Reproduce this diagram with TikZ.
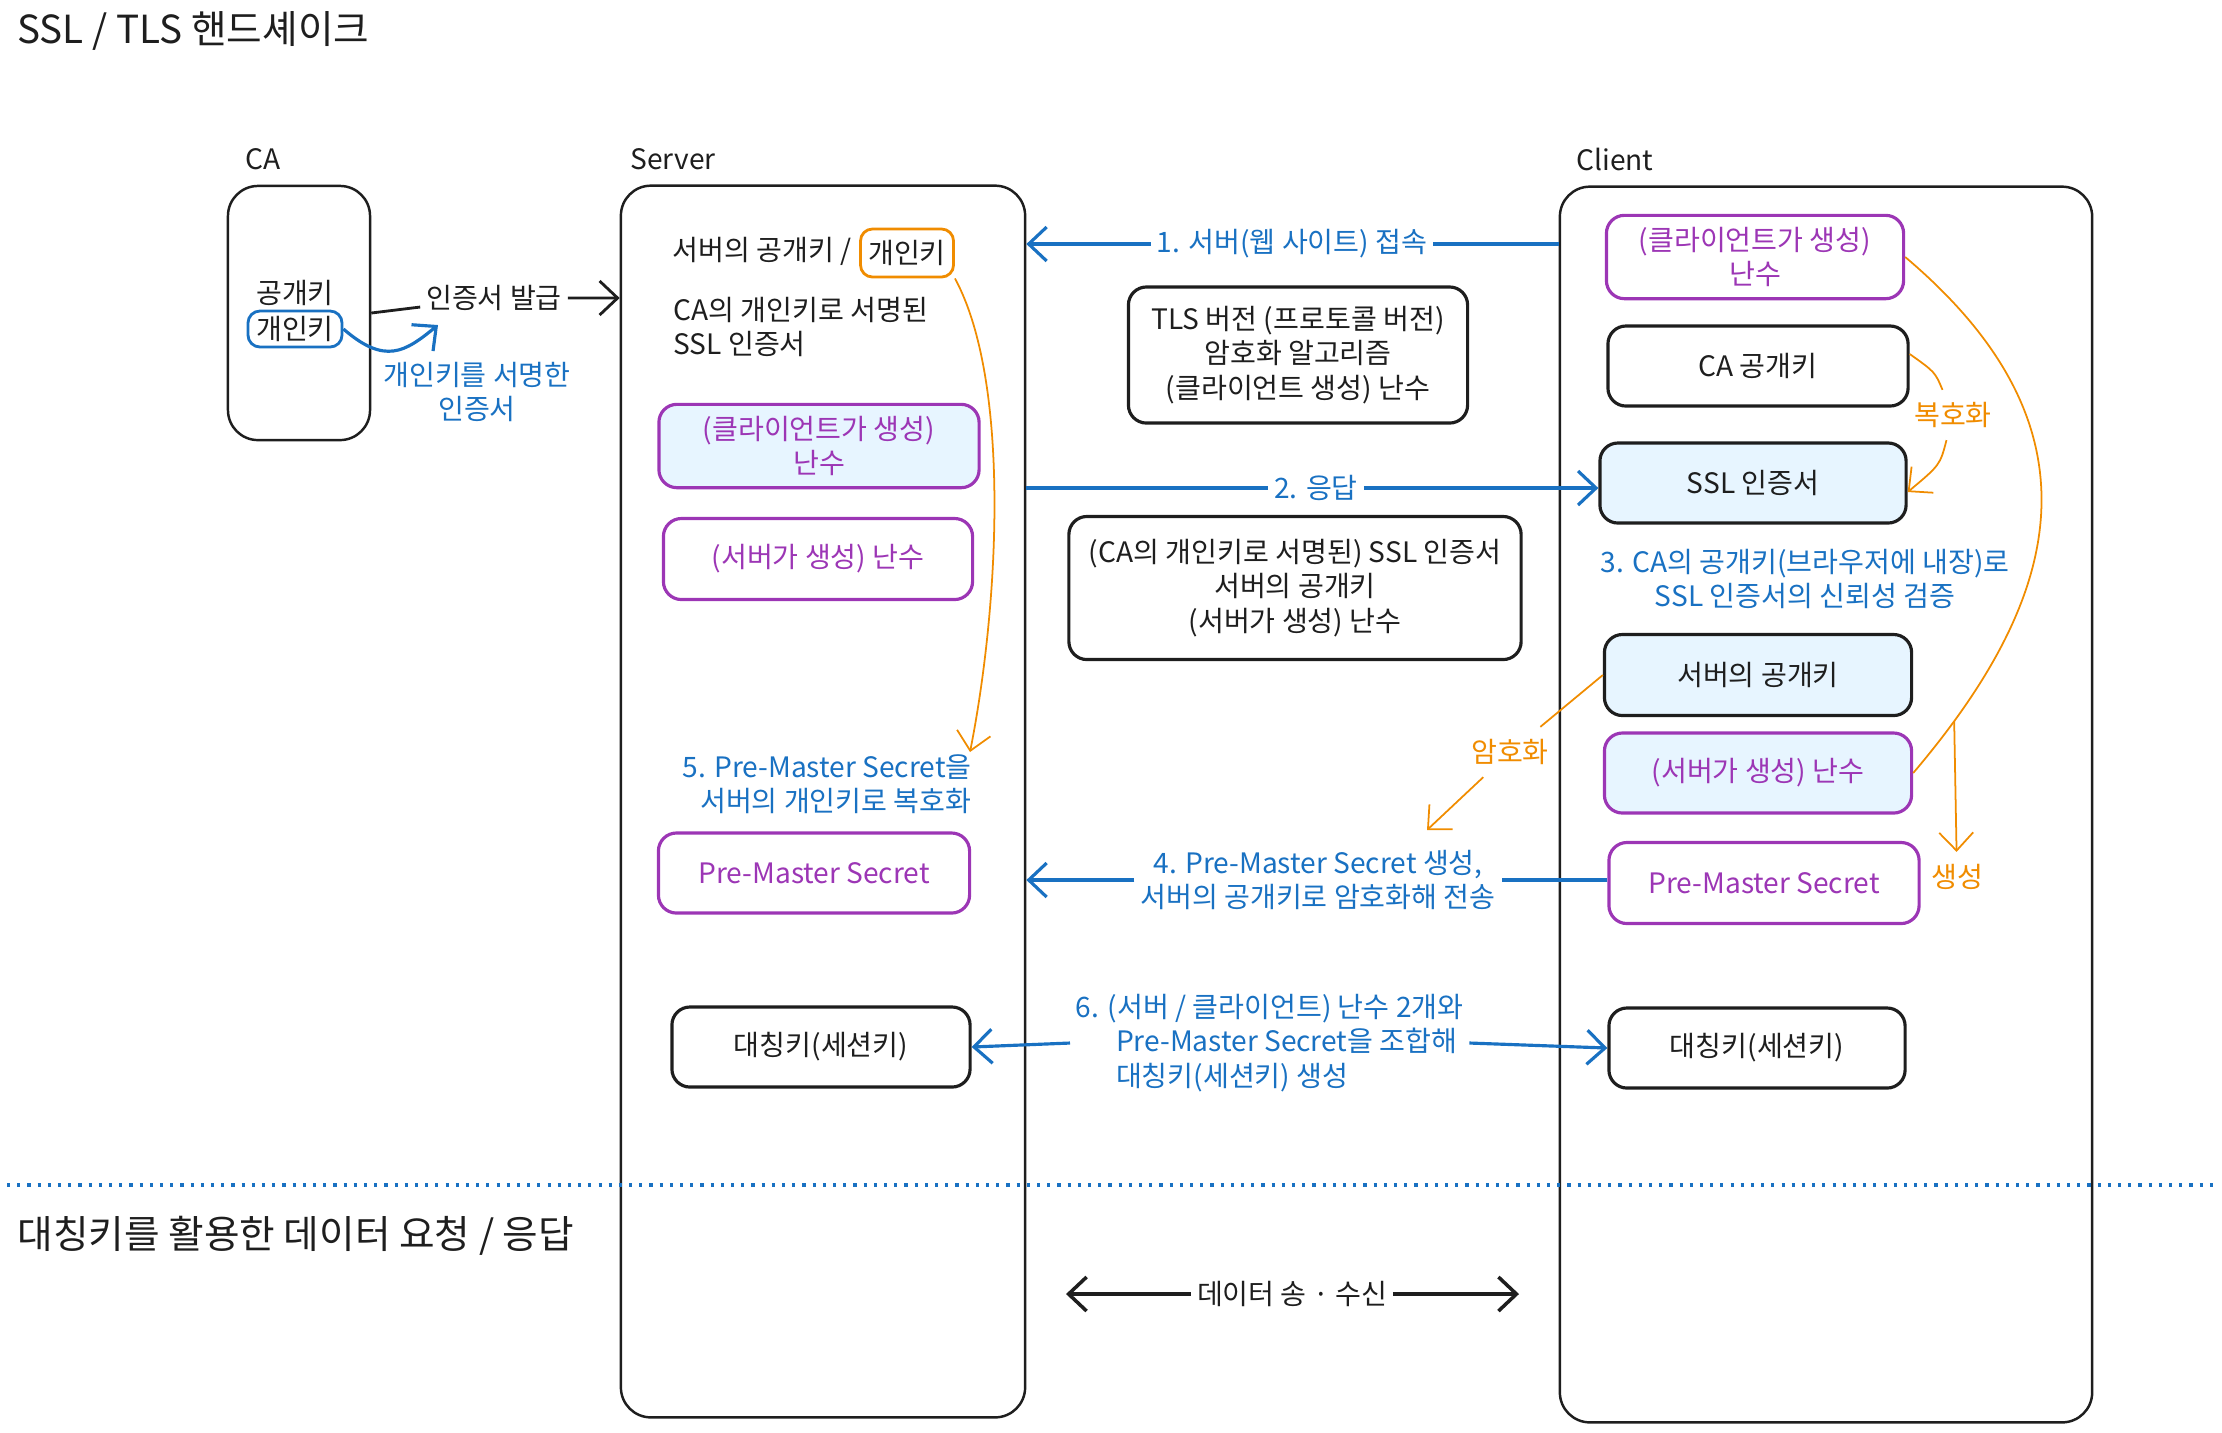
\documentclass[tikz,border=0pt]{standalone}
\usepackage{fontspec}
\setmainfont{Noto Sans CJK KR}
\usepackage{xcolor}
\usepackage{tikz}
\usetikzlibrary{arrows.meta}
\definecolor{exblack}{HTML}{1E1E1E}
\definecolor{exblue}{HTML}{1971C2}
\definecolor{expurple}{HTML}{9C36B5}
\definecolor{exorange}{HTML}{F08C00}
\definecolor{exfill}{HTML}{E7F5FF}
\tikzset{>={Straight Barb[length=1.8mm,width=3.4mm]}}
\tikzset{
	lane/.style={draw=exblack,line width=0.7pt,rounded corners=3mm},
	keybox/.style={draw=exblack,line width=0.9pt,rounded corners=1.8mm,align=center,text=exblack},
	randbox/.style={keybox,draw=expurple,text=expurple},
	tagbox/.style={draw,line width=0.8pt,rounded corners=1.2mm,inner sep=1.5pt},
	blueline/.style={draw=exblue,line width=0.9pt},
	oline/.style={draw=exorange,line width=0.5pt},
	bluetext/.style={text=exblue,align=center},
	msgtext/.style={bluetext,inner sep=1.5pt},
	otext/.style={text=exorange}
}

\begin{document}
\begin{tikzpicture}[x=0.01cm,y=-0.01cm,color=exblack,font=\fontsize{8}{9.8}\selectfont]
	\useasboundingbox (0,0) rectangle (2222,1432);
	\node[anchor=west,font=\fontsize{11}{12}\selectfont] (title) at (5,31) {SSL / TLS 핸드셰이크};
	\node[anchor=west,font=\fontsize{11}{12}\selectfont] (title data) at (5,1236) {대칭키를 활용한 데이터 요청 / 응답};
	% lanes
	\node[lane,minimum width=1.42cm,minimum height=2.54cm] (ca) at (299,313) {};
	\node[lane,minimum width=4.04cm,minimum height=12.31cm] (srv) at (823,801.5) {};
	\node[lane,minimum width=5.32cm,minimum height=12.35cm] (cli) at (1826,804.5) {};
	\node (ca name) at (263,159) {CA};
	\node (srv name) at (673,159) {Server};
	\node (cli name) at (1615,159) {Client};
	% CA
	\node (ca pub) at (295,293) {공개키};
	\node[tagbox,draw=exblue,minimum width=0.94cm,minimum height=0.36cm] (ca priv) at (295,329) {개인키};
	\node[bluetext] (ca sign) at (477,392) {개인키를 서명한\\인증서};
	\coordinate (ca sign tip) at (438,325);
	\draw[blueline,->] (ca priv.east) .. controls (385,365) and (405,352) .. (ca sign tip);
	\node[inner sep=1.5pt] (issue) at (494,298) {인증서 발급};
	\draw[line width=0.8pt,->] (ca.east) -- (issue) -- (srv.west |- issue);
	% server
	\node[anchor=east] (srv keys) at (864,251) {서버의 공개키 /};
	\node[tagbox,draw=exorange,minimum width=0.93cm,minimum height=0.48cm] (srv priv) at (907,253) {개인키};
	\node[anchor=west,align=left] (srv cert) at (661,327) {CA의 개인키로 서명된\\SSL 인증서};
	\node[randbox,fill=exfill,minimum width=3.2cm,minimum height=0.81cm] (srv crand) at (819,446) {(클라이언트가 생성)\\난수};
	\node[randbox,minimum width=3.09cm,minimum height=0.81cm] (srv srand) at (818,559) {(서버가 생성) 난수};
	\node[bluetext,align=right,anchor=east] (srv dec) at (984,784) {5. Pre-Master Secret을\\서버의 개인키로 복호화};
	\coordinate (srv dec tip) at (970,752);
	\draw[oline,->] (srv priv.south east) .. controls (1010,380) and (1000,600) .. (srv dec tip);
	\node[randbox,minimum width=3.11cm,minimum height=0.8cm] (srv pms) at (814,873) {Pre-Master Secret};
	\node[keybox,minimum width=2.98cm,minimum height=0.8cm] (srv sym) at (821,1047) {대칭키(세션키)};
	% messages
	\node[msgtext] (hello) at (1292,244) {1. 서버(웹 사이트) 접속};
	\draw[blueline,->] (cli.west |- hello) -- (hello) -- (srv.east |- hello);
	\node[keybox,minimum width=3.39cm,minimum height=1.36cm] (hello msg) at (1298,355) {TLS 버전 (프로토콜 버전)\\암호화 알고리즘\\(클라이언트 생성) 난수};
	\node[msgtext] (reply) at (1316,488) {2. 응답};
	\node[keybox,minimum width=4.52cm,minimum height=1.43cm] (reply msg) at (1295,588) {(CA의 개인키로 서명된) SSL 인증서\\서버의 공개키\\(서버가 생성) 난수};
	\node[msgtext] (send pms) at (1318,880) {4. Pre-Master Secret 생성,\\서버의 공개키로 암호화해 전송};
	\node[msgtext,align=left,anchor=west] (mix) at (1070,1043) {6. (서버 / 클라이언트) 난수 2개와\\\hspace*{4mm}Pre-Master Secret을 조합해\\\hspace*{4mm}대칭키(세션키) 생성};
	% client
	\node[randbox,minimum width=2.97cm,minimum height=0.81cm] (cli crand) at (1755,257) {(클라이언트가 생성)\\난수};
	\node[keybox,minimum width=3cm,minimum height=0.8cm] (cli capub) at (1758,366) {CA 공개키};
	\node[keybox,fill=exfill,minimum width=3.06cm,minimum height=0.8cm] (cli ssl) at (1753,483) {SSL 인증서};
	\node[bluetext] (cli check) at (1805,579) {3. CA의 공개키(브라우저에 내장)로\\SSL 인증서의 신뢰성 검증};
	\node[keybox,fill=exfill,minimum width=3.07cm,minimum height=0.81cm] (cli spub) at (1758,675) {서버의 공개키};
	\node[randbox,fill=exfill,minimum width=3.07cm,minimum height=0.8cm] (cli srand) at (1758,773) {(서버가 생성) 난수};
	\node[randbox,minimum width=3.1cm,minimum height=0.81cm] (cli pms) at (1764,883) {Pre-Master Secret};
	\node[keybox,minimum width=2.96cm,minimum height=0.8cm] (cli sym) at (1757,1048) {대칭키(세션키)};
	\draw[blueline,->] (srv.east |- reply) -- (reply) -- (cli ssl.west |- reply);
	\draw[blueline,->] (cli pms.west |- send pms) -- (send pms) -- (srv.east |- send pms);
	\draw[blueline,->] (mix.west) -- (srv sym.east);
	\draw[blueline,->] (mix.east) -- (cli sym.west);
	% orange notes
	\node[otext] (cli dec) at (1953,415) {복호화};
	\draw[oline] ([yshift=0.12cm]cli capub.east) .. controls (1935,372) .. (cli dec);
	\draw[oline,->] (cli dec) .. controls (1940,465) .. ([yshift=-0.09cm]cli ssl.east);
	\draw[oline] (cli crand.east) .. controls (2110,430) and (2060,600) .. (cli srand.east) coordinate[pos=0.9] (gen from);
	\node[otext] (cli gen) at (1957,877) {생성};
	\draw[oline,->] (gen from) -- (cli gen);
	\node[otext] (cli enc) at (1510,752) {암호화};
	\coordinate (enc tip) at (1427,830);
	\draw[oline] (cli spub.west) -- (cli enc);
	\draw[oline,->] (cli enc) -- (enc tip);
	% data phase
	\draw[exblue,line width=0.9pt,dotted] (7,1185) -- (2215,1185);
	\coordinate (data l) at (1066,1294);
	\coordinate (data r) at (1519,1294);
	\node[inner sep=1.5pt] (data) at (1292,1294) {데이터 송 · 수신};
	\draw[line width=1pt,<-] (data l) -- (data);
	\draw[line width=1pt,->] (data) -- (data r);
\end{tikzpicture}
\end{document}
